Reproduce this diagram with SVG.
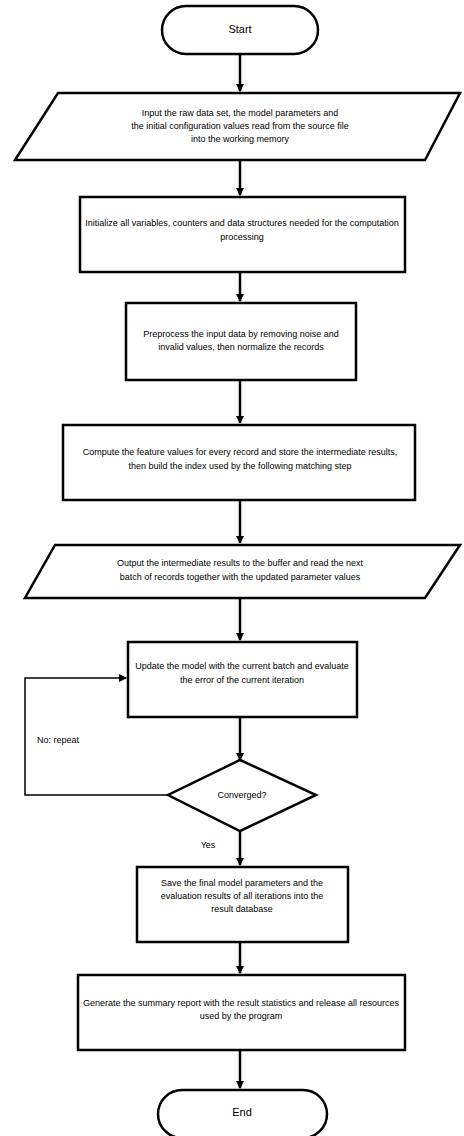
<svg xmlns="http://www.w3.org/2000/svg" width="464" height="1136" viewBox="0 0 464 1136">
<style>
.s{fill:#fff;stroke:#000;stroke-width:2.5}
.t{font-family:"Liberation Sans",Arial,sans-serif;font-size:9px;fill:#000;text-anchor:middle}
.c{fill:none;stroke:#000;stroke-width:2.5}
</style>
<defs>
<marker id="a" markerWidth="8" markerHeight="8" refX="7" refY="4" orient="auto" markerUnits="userSpaceOnUse">
<path d="M0,0 L8,4 L0,8 z" fill="#000"/>
</marker>
</defs>
<g id="connectors">
<line class="c" x1="240" y1="55" x2="240" y2="91" marker-end="url(#a)"/>
<line class="c" x1="240" y1="160" x2="240" y2="195" marker-end="url(#a)"/>
<line class="c" x1="240" y1="272" x2="240" y2="301" marker-end="url(#a)"/>
<line class="c" x1="240" y1="380" x2="240" y2="423" marker-end="url(#a)"/>
<line class="c" x1="240" y1="500" x2="240" y2="543" marker-end="url(#a)"/>
<line class="c" x1="240" y1="598" x2="240" y2="640" marker-end="url(#a)"/>
<line class="c" x1="240" y1="717" x2="240" y2="760" marker-end="url(#a)"/>
<line class="c" x1="240" y1="831" x2="240" y2="865" marker-end="url(#a)"/>
<line class="c" x1="240" y1="942" x2="240" y2="973" marker-end="url(#a)"/>
<line class="c" x1="240" y1="1050" x2="240" y2="1088" marker-end="url(#a)"/>
<polyline class="c" points="170,795 25,795 25,678 126,678" marker-end="url(#a)" style="stroke-width:1.5"/>
<text class="t" x="58" y="743">No: repeat</text>
<text class="t" x="208" y="848">Yes</text>
</g>
<g id="start">
<rect class="s" x="162" y="6" width="156" height="48" rx="24"/>
<text class="t" x="240" y="33" style="font-size:11px">Start</text>
</g>
<g id="input1">
<polygon class="s" points="58,93 460,93 425,160 15,160"/>
<text class="t" x="240" y="116">Input the raw data set, the model parameters and</text>
<text class="t" x="240" y="129">the initial configuration values read from the source file</text>
<text class="t" x="240" y="142">into the working memory</text>
</g>
<g id="process1">
<rect class="s" x="80" y="197" width="325" height="75"/>
<text class="t" x="242" y="226">Initialize all variables, counters and data structures needed for the computation</text>
<text class="t" x="242" y="240">processing</text>
</g>
<g id="process2">
<rect class="s" x="126" y="303" width="230" height="77"/>
<text class="t" x="241" y="337">Preprocess the input data by removing noise and</text>
<text class="t" x="241" y="350">invalid values, then normalize the records</text>
</g>
<g id="process3">
<rect class="s" x="63" y="425" width="352" height="75"/>
<text class="t" x="240" y="455">Compute the feature values for every record and store the intermediate results,</text>
<text class="t" x="240" y="469">then build the index used by the following matching step</text>
</g>
<g id="input2">
<polygon class="s" points="55,545 460,545 425,598 25,598"/>
<text class="t" x="240" y="566">Output the intermediate results to the buffer and read the next</text>
<text class="t" x="240" y="580">batch of records together with the updated parameter values</text>
</g>
<g id="process4">
<rect class="s" x="128" y="642" width="229" height="75"/>
<text class="t" x="242" y="669">Update the model with the current batch and evaluate</text>
<text class="t" x="242" y="683">the error of the current iteration</text>
</g>
<g id="decision">
<polygon class="s" points="240,760 316,795 240,831 168,795"/>
<text class="t" x="242" y="798">Converged?</text>
</g>
<g id="process5">
<rect class="s" x="137" y="867" width="211" height="75"/>
<text class="t" x="242" y="886">Save the final model parameters and the</text>
<text class="t" x="242" y="899">evaluation results of all iterations into the</text>
<text class="t" x="242" y="912">result database</text>
</g>
<g id="process6">
<rect class="s" x="78" y="975" width="327" height="75"/>
<text class="t" x="241" y="1006">Generate the summary report with the result statistics and release all resources</text>
<text class="t" x="241" y="1019">used by the program</text>
</g>
<g id="end">
<rect class="s" x="158" y="1090" width="169" height="48" rx="24"/>
<text class="t" x="242" y="1116" style="font-size:11px">End</text>
</g>
</svg>
